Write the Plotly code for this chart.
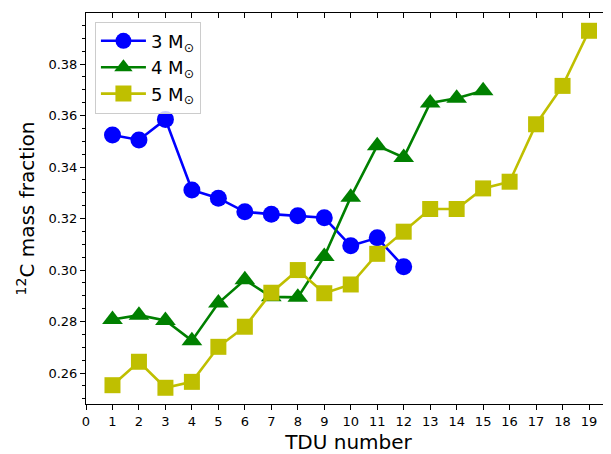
import plotly.graph_objects as go

tdu_3 = list(range(1, 13))
c12_3 = [0.3524, 0.3505, 0.3585, 0.3311, 0.3279, 0.3226, 0.3217, 0.3211, 0.3203, 0.3094, 0.3125, 0.3013]

tdu_4 = list(range(1, 16))
c12_4 = [0.2808, 0.2825, 0.2804, 0.2726, 0.2872, 0.2962, 0.2896, 0.2894, 0.3053, 0.3283, 0.3483, 0.3437, 0.3649, 0.3667, 0.3696]

tdu_5 = list(range(1, 20))
c12_5 = [0.2553, 0.2644, 0.2543, 0.2566, 0.2702, 0.2780, 0.2912, 0.3000, 0.2910, 0.2944, 0.3063, 0.3149, 0.3237, 0.3237, 0.3317, 0.3343, 0.3566, 0.3715, 0.3929]

labels = ["3 M<sub>⊙</sub>", "4 M<sub>⊙</sub>", "5 M<sub>⊙</sub>"]
x_ticks = list(range(0, 20))

fig = go.Figure()
fig.add_trace(go.Scatter(x=tdu_3, y=c12_3, mode="lines+markers", name=labels[0],
                         line=dict(color="#0000ff", width=2.6),
                         marker=dict(symbol="circle", size=17, color="#0000ff")))
fig.add_trace(go.Scatter(x=tdu_4, y=c12_4, mode="lines+markers", name=labels[1],
                         line=dict(color="#008000", width=2.6),
                         marker=dict(symbol="triangle-up", size=18, color="#008000")))
fig.add_trace(go.Scatter(x=tdu_5, y=c12_5, mode="lines+markers", name=labels[2],
                         line=dict(color="#bfbf00", width=2.6),
                         marker=dict(symbol="square", size=16, color="#bfbf00")))
# invisible trace for top axis
fig.add_trace(go.Scatter(x=[0], y=[0.3], xaxis="x2", showlegend=False, mode="markers",
                         marker=dict(opacity=0), hoverinfo="skip"))

font = "DejaVu Sans"
fig.update_layout(
    width=603, height=446,
    margin=dict(l=78, r=0, t=5, b=50),
    plot_bgcolor="white", paper_bgcolor="white",
    font=dict(family=font, color="black"),
    showlegend=True,
    legend=dict(x=0.017, y=0.978, xanchor="left", yanchor="top",
                bgcolor="rgba(255,255,255,0.8)", bordercolor="#cccccc", borderwidth=1,
                font=dict(size=18, family=font), itemwidth=45, tracegroupgap=0),
    xaxis=dict(range=[0, 19.83], tickmode="array", tickvals=x_ticks,
               ticktext=[str(v) for v in x_ticks], automargin=False,
               ticks="outside", ticklen=5, tickwidth=1, tickcolor="black",
               showline=True, linecolor="black", linewidth=1, showgrid=False, zeroline=False,
               tickfont=dict(size=13, family=font),
               title=dict(text="TDU number", font=dict(size=20, family=font), standoff=10)),
    xaxis2=dict(overlaying="x", side="top", matches="x", range=[0, 19.83], automargin=False,
                tickmode="array", tickvals=x_ticks, showticklabels=False,
                ticks="inside", ticklen=5, tickwidth=1, tickcolor="black",
                showline=True, linecolor="black", linewidth=1, showgrid=False, zeroline=False),
    yaxis=dict(range=[0.248, 0.3998], tick0=0, dtick=0.02, tickformat=".2f", automargin=False,
               ticks="outside", ticklen=5, tickwidth=1, tickcolor="black",
               minor=dict(dtick=0.005, tick0=0, ticks="outside", ticklen=3, tickcolor="black", tickwidth=1),
               showline=True, linecolor="black", linewidth=1, showgrid=False, zeroline=False,
               tickfont=dict(size=13, family=font),
               title=dict(text="<sup>12</sup>C mass fraction", font=dict(size=20, family=font), standoff=8)),
)

fig.write_html("out.html")
